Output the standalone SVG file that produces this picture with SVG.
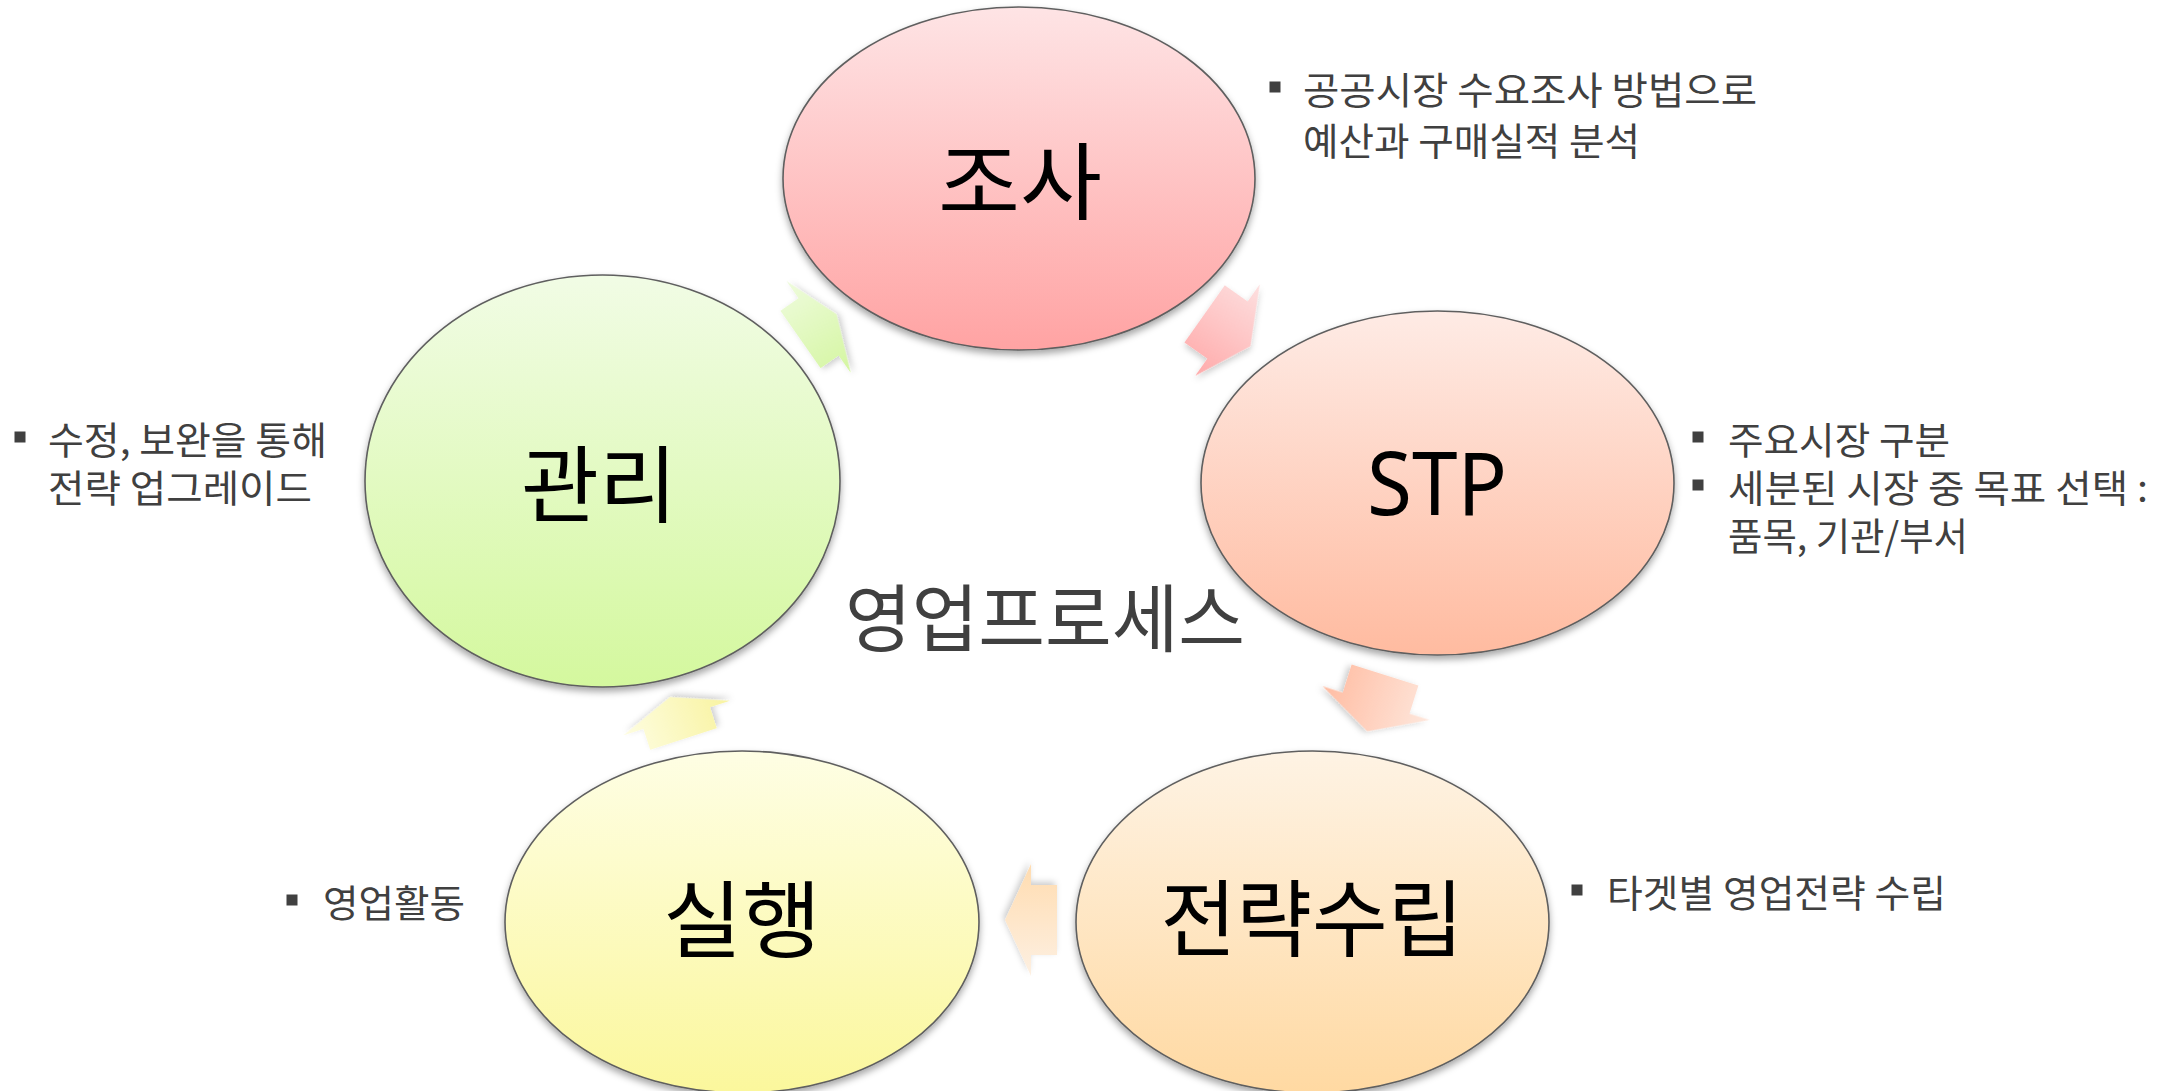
<svg xmlns="http://www.w3.org/2000/svg" width="2167" height="1091" viewBox="0 0 2167 1091">
<style>
.node-shape{stroke:#5f5f5f;stroke-width:1.6;filter:url(#sh)}
.big{font-family:"Noto Sans CJK KR","Noto Sans",sans-serif;font-size:84px;fill:#000;text-anchor:middle;dominant-baseline:central}
.lat{font-family:"Noto Sans","Noto Sans CJK KR",sans-serif;font-size:88px;fill:#000;text-anchor:middle;dominant-baseline:central}
.title{font-family:"Noto Sans CJK KR",sans-serif;font-size:74px;fill:#404040;text-anchor:middle;dominant-baseline:central}
.b{font-family:"Noto Sans CJK KR",sans-serif;font-size:38px;fill:#404040;dominant-baseline:central}
.sq{fill:#404040}
.arr{filter:url(#ash)}
</style>
<defs>
<filter id="sh" x="-10%" y="-10%" width="120%" height="125%">
<feDropShadow dx="0" dy="4" stdDeviation="3.5" flood-color="#000" flood-opacity="0.35"/>
</filter>
<filter id="ash" x="-20%" y="-20%" width="140%" height="140%">
<feDropShadow dx="2" dy="3" stdDeviation="3" flood-color="#000" flood-opacity="0.2"/>
</filter>
<linearGradient id="g1" x1="0" y1="0" x2="0" y2="1"><stop offset="0" stop-color="#fee4e5"/><stop offset="1" stop-color="#ffa3a3"/></linearGradient>
<linearGradient id="g2" x1="0" y1="0" x2="0" y2="1"><stop offset="0" stop-color="#feebe5"/><stop offset="1" stop-color="#ffbba0"/></linearGradient>
<linearGradient id="g3" x1="0" y1="0" x2="0" y2="1"><stop offset="0" stop-color="#fef3e4"/><stop offset="1" stop-color="#ffd9a2"/></linearGradient>
<linearGradient id="g4" x1="0" y1="0" x2="0" y2="1"><stop offset="0" stop-color="#fefee4"/><stop offset="1" stop-color="#fbf79c"/></linearGradient>
<linearGradient id="g5" x1="0" y1="0" x2="0" y2="1"><stop offset="0" stop-color="#f1fce5"/><stop offset="1" stop-color="#d4f89e"/></linearGradient>
<linearGradient id="a1" x1="0" y1="0" x2="0" y2="1"><stop offset="0" stop-color="#fde0e0"/><stop offset="1" stop-color="#ffaaaa"/></linearGradient>
<linearGradient id="a2" x1="0" y1="0" x2="0" y2="1"><stop offset="0" stop-color="#fee7dc"/><stop offset="1" stop-color="#ffbca2"/></linearGradient>
<linearGradient id="a3" x1="0" y1="0" x2="0" y2="1"><stop offset="0" stop-color="#fdf0e2"/><stop offset="1" stop-color="#ffdcb0"/></linearGradient>
<linearGradient id="a4" x1="0" y1="0" x2="0" y2="1"><stop offset="0" stop-color="#fefde0"/><stop offset="1" stop-color="#f8f3a0"/></linearGradient>
<linearGradient id="a5" x1="0" y1="0" x2="0" y2="1"><stop offset="0" stop-color="#eefbdc"/><stop offset="1" stop-color="#d4f6a0"/></linearGradient>
</defs>
<rect width="2167" height="1091" fill="#fff"/>

<g id="connectors">
<path class="arr" fill="url(#a5)" transform="translate(800.5,339.5) rotate(-35)" d="M0,-35 L22,-35 L22,-56 L44,0 L22,56 L22,35 L0,35 Z"/>
<path class="arr" fill="url(#a1)" transform="translate(1204.6,313.9) rotate(35.2)" d="M0,-35 L28,-35 L28,-56 L56,0 L28,56 L28,35 L0,35 Z"/>
<path class="arr" fill="url(#a2)" transform="translate(1385,675) rotate(107.5)" d="M0,-35 L29.5,-35 L29.5,-56 L59,0 L29.5,56 L29.5,35 L0,35 Z"/>
<path class="arr" fill="url(#a3)" transform="translate(1057,920) rotate(180)" d="M0,-35 L26,-35 L26,-56 L52,0 L26,56 L26,35 L0,35 Z"/>
<path class="arr" fill="url(#a4)" transform="translate(683.5,739) rotate(-108)" d="M0,-35 L22,-35 L22,-56 L44,0 L22,56 L22,35 L0,35 Z"/>
</g>

<g id="node-josa">
<ellipse class="node-shape" cx="1019" cy="178.5" rx="236" ry="171.5" fill="url(#g1)"/>
<text class="big" x="1020" y="176" textLength="164" lengthAdjust="spacingAndGlyphs">조사</text>
</g>
<g id="node-stp">
<ellipse class="node-shape" cx="1437.5" cy="483" rx="236.5" ry="172" fill="url(#g2)"/>
<text class="lat" x="1437" y="481" textLength="140" lengthAdjust="spacingAndGlyphs">STP</text>
</g>
<g id="node-strategy">
<ellipse class="node-shape" cx="1312.5" cy="922" rx="236.5" ry="171" fill="url(#g3)"/>
<text class="big" x="1312" y="913" textLength="303" lengthAdjust="spacingAndGlyphs">전략수립</text>
</g>
<g id="node-exec">
<ellipse class="node-shape" cx="742" cy="922" rx="237" ry="171" fill="url(#g4)"/>
<text class="big" x="742" y="914" textLength="158" lengthAdjust="spacingAndGlyphs">실행</text>
</g>
<g id="node-manage">
<ellipse class="node-shape" cx="602.5" cy="481" rx="237.5" ry="206" fill="url(#g5)"/>
<text class="big" x="599" y="479" textLength="156" lengthAdjust="spacingAndGlyphs">관리</text>
</g>

<g id="title">
<text class="title" x="1045" y="613" textLength="400" lengthAdjust="spacingAndGlyphs">영업프로세스</text>
</g>

<g id="notes-josa">
<rect class="sq" x="1269.5" y="81.5" width="11" height="11"/>
<text class="b" x="1303" y="87" textLength="454" lengthAdjust="spacingAndGlyphs">공공시장 수요조사 방법으로</text>
<text class="b" x="1303" y="138" textLength="337" lengthAdjust="spacingAndGlyphs">예산과 구매실적 분석</text>
</g>
<g id="notes-stp">
<rect class="sq" x="1692.5" y="431.5" width="11" height="11"/>
<text class="b" x="1728" y="437" textLength="222" lengthAdjust="spacingAndGlyphs">주요시장 구분</text>
<rect class="sq" x="1692.5" y="479.5" width="11" height="11"/>
<text class="b" x="1728" y="485" textLength="420" lengthAdjust="spacingAndGlyphs">세분된 시장 중 목표 선택 :</text>
<text class="b" x="1728" y="533" textLength="240" lengthAdjust="spacingAndGlyphs">품목, 기관/부서</text>
</g>
<g id="notes-strategy">
<rect class="sq" x="1571.5" y="884.5" width="11" height="11"/>
<text class="b" x="1607" y="890" textLength="339" lengthAdjust="spacingAndGlyphs">타겟별 영업전략 수립</text>
</g>
<g id="notes-exec">
<rect class="sq" x="286.5" y="894.5" width="11" height="11"/>
<text class="b" x="323" y="900" textLength="142" lengthAdjust="spacingAndGlyphs">영업활동</text>
</g>
<g id="notes-manage">
<rect class="sq" x="14.5" y="431.5" width="11" height="11"/>
<text class="b" x="48" y="437" textLength="279" lengthAdjust="spacingAndGlyphs">수정, 보완을 통해</text>
<text class="b" x="48" y="485" textLength="264" lengthAdjust="spacingAndGlyphs">전략 업그레이드</text>
</g>
</svg>
